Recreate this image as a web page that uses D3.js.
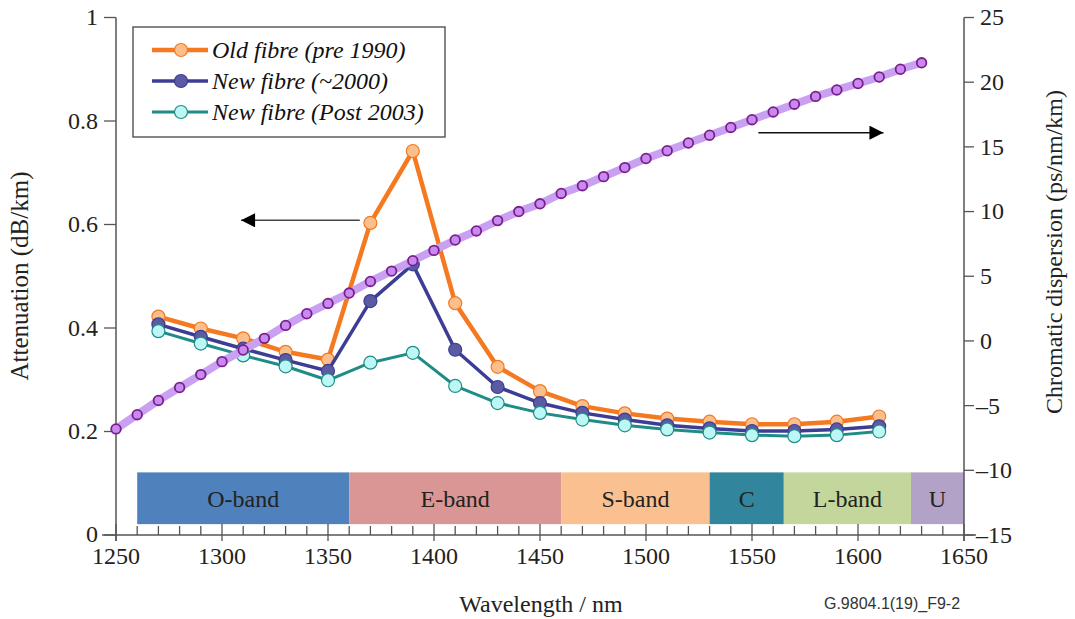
<!DOCTYPE html>
<html><head><meta charset="utf-8">
<script src="https://cdn.jsdelivr.net/npm/d3@7"></script>
<style>
html,body{margin:0;padding:0;background:#fff;}
svg text{font-family:"Liberation Serif","Times New Roman",serif;}
</style>
</head><body>
<svg id="chart" width="1075" height="619"></svg>
<script>
// ---------- data ----------
const attWavelengths = [1270,1290,1310,1330,1350,1370,1390,1410,1430,1450,1470,1490,1510,1530,1550,1570,1590,1610];
const oldFibre  = [0.422,0.399,0.380,0.354,0.339,0.603,0.742,0.448,0.325,0.278,0.249,0.235,0.225,0.219,0.214,0.214,0.219,0.229];
const newFibre2000 = [0.407,0.383,0.360,0.338,0.317,0.452,0.523,0.358,0.286,0.255,0.236,0.223,0.212,0.206,0.201,0.201,0.204,0.210];
const newFibre2003 = [0.394,0.370,0.347,0.326,0.299,0.333,0.352,0.288,0.255,0.236,0.223,0.212,0.204,0.198,0.193,0.191,0.193,0.200];
const dispWavelengths = [1250,1260,1270,1280,1290,1300,1310,1320,1330,1340,1350,1360,1370,1380,1390,1400,1410,1420,1430,1440,1450,1460,1470,1480,1490,1500,1510,1520,1530,1540,1550,1560,1570,1580,1590,1600,1610,1620,1630];
const dispersion = [-6.8,-5.7,-4.6,-3.6,-2.6,-1.6,-0.7,0.2,1.2,2.1,2.9,3.7,4.6,5.4,6.2,7.0,7.8,8.5,9.3,10.0,10.6,11.4,12.0,12.7,13.4,14.1,14.7,15.3,15.9,16.5,17.1,17.7,18.3,18.9,19.4,19.9,20.4,21.0,21.5];
const bandNames = ["O-band","E-band","S-band","C","L-band","U"];
const bandStart = [1260,1360,1460,1530,1565,1625];
const bandEnd   = [1360,1460,1530,1565,1625,1650];
const bandColors = ["#4f81bd","#d99694","#fac090","#31859c","#c3d69b","#b3a2c7"];
const seriesNames = ["Old fibre (pre 1990)","New fibre (~2000)","New fibre (Post 2003)"];
const xTicks = [1250,1300,1350,1400,1450,1500,1550,1600,1650];
const yLeftTicks = [0,0.2,0.4,0.6,0.8,1];
const yRightTicks = [-15,-10,-5,0,5,10,15,20,25];

// ---------- layout ----------
const svg = d3.select("#chart");
const X0=116, X1=964, Y0=535, Y1=17.5;
const x = d3.scaleLinear().domain([1250,1650]).range([X0,X1]);
const yL = d3.scaleLinear().domain([0,1]).range([Y0,Y1]);
const yR = d3.scaleLinear().domain([-15,25]).range([Y0,Y1]);
const axisColor = "#555";
const FS = 24;

// bands
const bands = bandNames.map((n,i)=>({n, s:bandStart[i], e:bandEnd[i], c:bandColors[i]}));
const bg = svg.append("g");
bg.selectAll("rect").data(bands).join("rect")
  .attr("x",d=>x(d.s)).attr("width",d=>x(d.e)-x(d.s))
  .attr("y",yL(0.121)).attr("height",yL(0.021)-yL(0.121))
  .attr("fill",d=>d.c);
bg.selectAll("text").data(bands).join("text")
  .attr("x",d=>(x(d.s)+x(d.e))/2).attr("y",(yL(0.121)+yL(0.021))/2)
  .attr("dy","0.35em").attr("text-anchor","middle")
  .attr("font-size",FS).attr("fill","#222").text(d=>d.n);

// axes
const gx = svg.append("g").attr("transform",`translate(0,${Y0})`);
gx.append("line").attr("x1",X0-14).attr("x2",X1+12).attr("stroke",axisColor).attr("stroke-width",1.5);
gx.selectAll("line.minor").data(d3.range(1250,1651,10)).join("line").attr("class","minor")
  .attr("x1",d=>x(d)).attr("x2",d=>x(d)).attr("y1",0).attr("y2",d=>d%50===0?-11:-9)
  .attr("stroke",axisColor).attr("stroke-width",1.3);
gx.selectAll("line.major").data(xTicks).join("line").attr("class","major")
  .attr("x1",d=>x(d)).attr("x2",d=>x(d)).attr("y1",0).attr("y2",6)
  .attr("stroke",axisColor).attr("stroke-width",1.3);
gx.selectAll("text").data(xTicks).join("text")
  .attr("x",d=>x(d)).attr("y",29).attr("text-anchor","middle")
  .attr("font-size",FS).attr("fill","#222").text(d=>d);

const gl = svg.append("g").attr("transform",`translate(${X0},0)`);
gl.append("line").attr("y1",Y1).attr("y2",Y0+6).attr("stroke",axisColor).attr("stroke-width",1.5);
gl.selectAll("line.t").data(yLeftTicks).join("line").attr("class","t")
  .attr("x1",-12).attr("x2",0).attr("y1",d=>yL(d)).attr("y2",d=>yL(d))
  .attr("stroke",axisColor).attr("stroke-width",1.3);
gl.selectAll("text").data(yLeftTicks).join("text")
  .attr("x",-18).attr("y",d=>yL(d)).attr("dy",d=>d===0?"0.28em":"0.33em").attr("text-anchor","end")
  .attr("font-size",FS).attr("fill","#222").text(d=>d3.format("~g")(d));

const gr = svg.append("g").attr("transform",`translate(${X1},0)`);
gr.append("line").attr("y1",Y1).attr("y2",Y0+6).attr("stroke",axisColor).attr("stroke-width",1.5);
gr.selectAll("line.t").data(yRightTicks).join("line").attr("class","t")
  .attr("x1",0).attr("x2",10).attr("y1",d=>yR(d)).attr("y2",d=>yR(d))
  .attr("stroke",axisColor).attr("stroke-width",1.3);
gr.selectAll("text").data(yRightTicks).join("text")
  .attr("x",d=>d<0?12:16).attr("y",d=>yR(d)).attr("dy","0.33em").attr("text-anchor","start")
  .attr("font-size",FS).attr("fill","#222").text(d=>d<0?"\u2013"+Math.abs(d):d);

// axis titles
svg.append("text").attr("transform",`translate(28,276) rotate(-90)`)
  .attr("text-anchor","middle").attr("font-size",25).attr("fill","#222").text("Attenuation (dB/km)");
svg.append("text").attr("transform",`translate(1062,252) rotate(-90)`)
  .attr("text-anchor","middle").attr("font-size",24).attr("fill","#222").text("Chromatic dispersion (ps/nm/km)");
svg.append("text").attr("x",541).attr("y",612).attr("text-anchor","middle")
  .attr("font-size",FS).attr("fill","#222").text("Wavelength / nm");
svg.append("text").attr("x",892).attr("y",609).attr("text-anchor","middle")
  .style("font-family","'Liberation Sans',Arial,sans-serif")
  .attr("font-size",16).attr("fill","#333").text("G.9804.1(19)_F9-2");

// arrows
const defs = svg.append("defs");
defs.append("marker").attr("id","ah").attr("viewBox","0 0 10 10").attr("refX",10).attr("refY",5)
  .attr("markerWidth",15).attr("markerHeight",14).attr("markerUnits","userSpaceOnUse").attr("orient","auto")
  .append("path").attr("d","M0,0L10,5L0,10Z").attr("fill","#000");
svg.append("line").attr("x1",x(1365)).attr("x2",x(1309)).attr("y1",yL(0.608)).attr("y2",yL(0.608))
  .attr("stroke","#444").attr("stroke-width",1.5).attr("marker-end","url(#ah)");
svg.append("line").attr("x1",x(1553)).attr("x2",x(1612)).attr("y1",yR(16.1)).attr("y2",yR(16.1))
  .attr("stroke","#111").attr("stroke-width",1.5).attr("marker-end","url(#ah)");

// attenuation series
const series = [
  {vals:oldFibre, line:"#f47920", fill:"#fbbf8c", stroke:"#f47920", w:4.5},
  {vals:newFibre2000, line:"#3d3d96", fill:"#5b5ba3", stroke:"#3d3d96", w:3.5},
  {vals:newFibre2003, line:"#1f8c86", fill:"#bdf7f5", stroke:"#1f8c86", w:3},
];
series.forEach(s=>{
  const pts = attWavelengths.map((w,i)=>[w,s.vals[i]]);
  svg.append("path").datum(pts)
    .attr("d",d3.line().x(d=>x(d[0])).y(d=>yL(d[1])))
    .attr("fill","none").attr("stroke",s.line).attr("stroke-width",s.w).attr("stroke-linejoin","round");
  svg.append("g").selectAll("circle").data(pts).join("circle")
    .attr("cx",d=>x(d[0])).attr("cy",d=>yL(d[1])).attr("r",6.5)
    .attr("fill",s.fill).attr("stroke",s.stroke).attr("stroke-width",1.2);
});

// dispersion
const dpts = dispWavelengths.map((w,i)=>[w,dispersion[i]]);
svg.append("path").datum(dpts)
  .attr("d",d3.line().x(d=>x(d[0])).y(d=>yR(d[1])))
  .attr("fill","none").attr("stroke","#c9a0f2").attr("stroke-width",8).attr("stroke-linecap","round");
svg.append("g").selectAll("circle").data(dpts).join("circle")
  .attr("cx",d=>x(d[0])).attr("cy",d=>yR(d[1])).attr("r",4.8)
  .attr("fill","#c88af0").attr("stroke","#7a1f8a").attr("stroke-width",1.8);

// legend
const lg = svg.append("g");
lg.append("rect").attr("x",133).attr("y",27).attr("width",312).attr("height",110)
  .attr("fill","#fff").attr("stroke","#444").attr("stroke-width",1.3);
series.forEach((s,i)=>{
  const yy = 50 + i*31;
  lg.append("line").attr("x1",152).attr("x2",208).attr("y1",yy).attr("y2",yy)
    .attr("stroke",s.line).attr("stroke-width",s.w);
  lg.append("circle").attr("cx",181).attr("cy",yy).attr("r",6.5)
    .attr("fill",s.fill).attr("stroke",s.stroke).attr("stroke-width",1.2);
  lg.append("text").attr("x",212).attr("y",yy).attr("dy","0.33em")
    .attr("font-size",FS).attr("font-style","italic").attr("fill","#111").text(seriesNames[i]);
});
</script>
</body></html>
